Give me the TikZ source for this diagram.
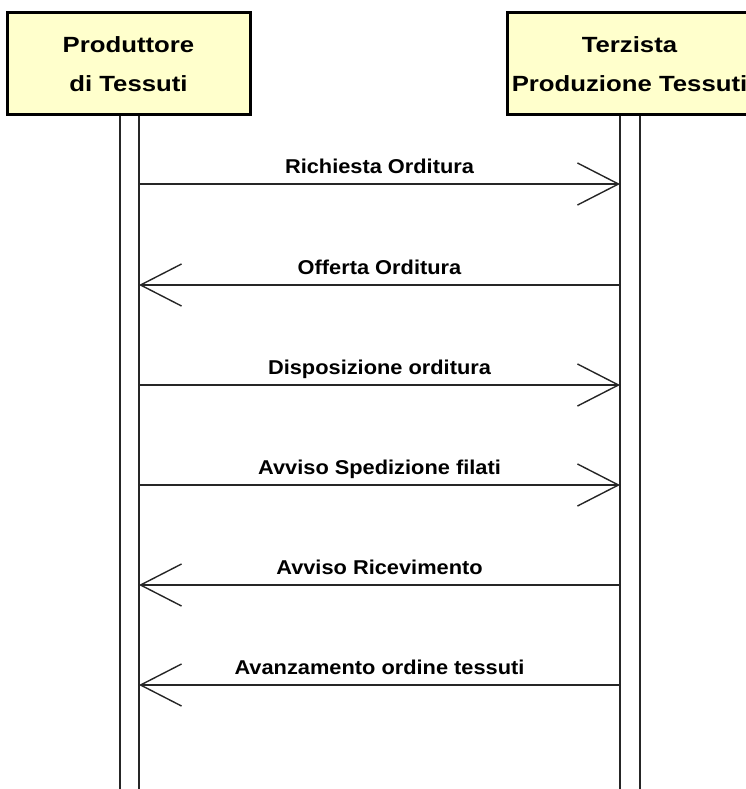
\documentclass[tikz,border=0pt]{standalone}
\usepackage{fontspec}
\setmainfont{Liberation Sans}
\newfontfamily\labfont[FakeStretch=1.09]{Liberation Sans}
\newfontfamily\actfont[FakeStretch=1.17]{Liberation Sans}
\usetikzlibrary{arrows.meta}
\definecolor{boxfill}{RGB}{255,255,204}
\tikzset{
  actor/.style={draw=black, line width=3pt, fill=boxfill, inner sep=0pt,
    align=center, font=\actfont\fontsize{22}{39}\selectfont\bfseries},
  life/.style={line width=1.5pt, draw=black!85},
  msg/.style={line width=1.4pt, draw=black!85,
    -{Straight Barb[length=41pt,width=42pt,line width=1.4pt]}},
  msglabel/.style={font=\labfont\fontsize{20}{24}\selectfont\bfseries,
    anchor=base, inner sep=0pt}
}
\begin{document}
\begin{tikzpicture}[x=1pt,y=-1pt]
\useasboundingbox (0,0) rectangle (746,789);
% lifelines
\foreach \xx/\nm in {120/la,139/lb,620/ra,640/rb}{
  \coordinate (\nm top) at (\xx,115);
  \coordinate (\nm bot) at (\xx,792);
  \draw[life] (\nm top) -- (\nm bot);
}
% actors
\node[actor, minimum width=243pt, minimum height=102pt] (prod) at (128.5,64)
  {Produttore\\di Tessuti};
\begin{scope}
\clip (0,0) rectangle (746,789);
\node[actor, minimum width=245pt, minimum height=102pt] (terz) at (629.5,64)
  {Terzista\\Produzione Tessuti};
\end{scope}
% messages
\foreach \i/\yy in {1/184,2/285,3/385,4/485,5/585,6/685}{
  \coordinate (L\i) at (139,\yy);
  \coordinate (R\i) at (620,\yy);
}
\draw[msg] (L1) -- (R1) node[msglabel, pos=0.5, yshift=11pt] (m1) {Richiesta Orditura};
\draw[msg] (R2) -- (L2) node[msglabel, pos=0.5, yshift=11pt] (m2) {Offerta Orditura};
\draw[msg] (L3) -- (R3) node[msglabel, pos=0.5, yshift=11pt] (m3) {Disposizione orditura};
\draw[msg] (L4) -- (R4) node[msglabel, pos=0.5, yshift=11pt] (m4) {Avviso Spedizione filati};
\draw[msg] (R5) -- (L5) node[msglabel, pos=0.5, yshift=11pt] (m5) {Avviso Ricevimento};
\draw[msg] (R6) -- (L6) node[msglabel, pos=0.5, yshift=11pt] (m6) {Avanzamento ordine tessuti};
\end{tikzpicture}
\end{document}
